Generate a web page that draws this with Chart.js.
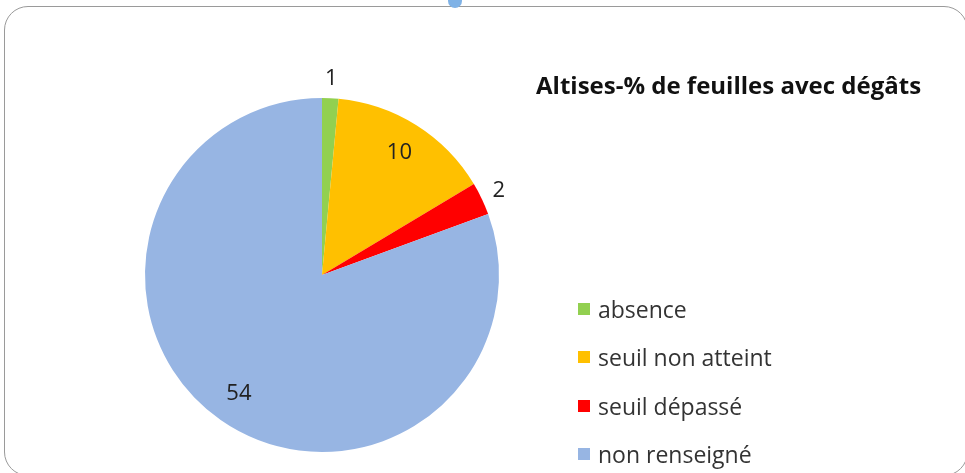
<!DOCTYPE html>
<html>
<head>
<meta charset="utf-8">
<script src="https://cdn.jsdelivr.net/npm/chart.js@4"></script>
<style>
  html, body { margin: 0; padding: 0; background: #fff; }
  #wrap { position: relative; width: 965px; height: 473px; overflow: hidden; font-family: "Open Sans", "Noto Sans", sans-serif; }
  #frame {
    position: absolute; left: 4px; top: 6px; width: 964px; height: 470px;
    border: 1px solid #9a9a9a; border-radius: 24px; box-sizing: border-box;
  }
  #dot { position: absolute; left: 448px; top: -6px; width: 14px; height: 14px; border-radius: 50%; background: #7fb2e6; }
  #title { position: absolute; left: 536px; top: 68px; font-weight: bold; font-size: 24px; color: #111; white-space: nowrap; }
  #legend { position: absolute; left: 578px; top: 285px; }
  .item { height: 48.3px; display: flex; align-items: center; font-size: 23px; color: #333; white-space: nowrap; }
  .box { width: 12px; height: 12px; margin-right: 8px; }
  canvas { position: absolute; left: 0; top: 0; }
</style>
</head>
<body>
<div id="wrap">
  <div id="frame"></div>
  <div id="dot"></div>
  <canvas id="pie" width="965" height="473"></canvas>
  <div id="title"></div>
  <div id="legend"></div>
</div>
<script>
const chartTitle = 'Altises-% de feuilles avec dégâts';
const categories = ['absence', 'seuil non atteint', 'seuil dépassé', 'non renseigné'];
const counts = [1, 10, 2, 54];
const colors = ['#92d050', '#ffc000', '#ff0000', '#97b5e3'];

document.getElementById('title').textContent = chartTitle;

const legend = document.getElementById('legend');
categories.forEach((cat, i) => {
    const row = document.createElement('div');
    row.className = 'item';
    row.innerHTML = `<span class="box" style="background:${colors[i]}"></span><span>${cat}</span>`;
    legend.appendChild(row);
});

// Draw the value labels, outside for thin slices, inside otherwise
const valueLabels = {
    id: 'valueLabels',
    afterDatasetsDraw(chart) {
        const ctx = chart.ctx;
        const meta = chart.getDatasetMeta(0);
        const total = counts.reduce((a, b) => a + b, 0);
        ctx.save();
        ctx.font = '22px "Open Sans", "Noto Sans", sans-serif';
        ctx.fillStyle = '#222';
        ctx.textAlign = 'center';
        ctx.textBaseline = 'middle';
        meta.data.forEach((arc, i) => {
            const p = arc.getProps(['x', 'y', 'startAngle', 'endAngle', 'outerRadius']);
            const mid = (p.startAngle + p.endAngle) / 2;
            const r = counts[i] / total < 0.05 ? p.outerRadius + 19 : p.outerRadius * 0.82;
            ctx.fillText(String(counts[i]), p.x + Math.cos(mid) * r, p.y + Math.sin(mid) * r);
        });
        ctx.restore();
    }
};

new Chart(document.getElementById('pie'), {
    type: 'pie',
    data: {
        labels: categories,
        datasets: [{
            data: counts,
            backgroundColor: colors,
            borderWidth: 0
        }]
    },
    options: {
        responsive: false,
        animation: false,
        layout: { padding: { left: 145, right: 466, top: 98, bottom: 21 } },
        plugins: {
            legend: { display: false },
            title: { display: false },
            tooltip: { enabled: false }
        }
    },
    plugins: [valueLabels]
});
</script>
</body>
</html>
